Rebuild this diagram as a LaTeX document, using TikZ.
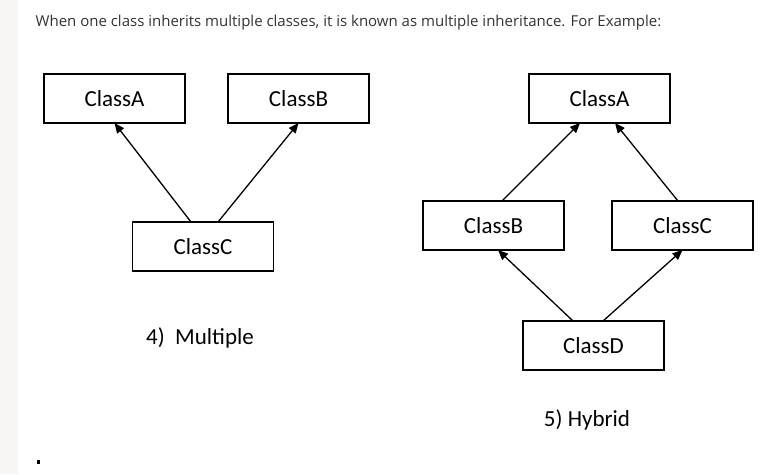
\documentclass[tikz,border=0pt]{standalone}
\usepackage{fontspec}
\setmainfont{Carlito}
\newfontfamily\webfont{Open Sans}
\usepackage{tikz}
\usetikzlibrary{arrows.meta,positioning}
\definecolor{strip}{RGB}{248,245,245}
\definecolor{webtext}{RGB}{51,51,51}

\tikzset{
  cls/.style={shape=rectangle, draw=black, line width=1.3pt, fill=white,
    minimum width=141pt, minimum height=49pt, inner sep=0pt, outer sep=0pt,
    font=\fontsize{23}{27}\selectfont},
  kind/.style={inner sep=0pt, font=\fontsize{23}{27}\selectfont}
}

\begin{document}
\begin{tikzpicture}[x=1pt, y=-1pt, >={Triangle[length=10pt,width=8.5pt]}, line width=1.3pt]
\useasboundingbox (0,0) rectangle (778,474);
\fill[strip] (0,0) rectangle (18,474);
\node[anchor=west, inner sep=0pt, text=webtext, font=\webfont\fontsize{15}{18}\selectfont] (intro) at (35,23)
  {When one class inherits multiple classes, it is known as multiple inheritance. For Example:};
% multiple
\node[cls] (A1) at (114.5,98.5) {ClassA};
\node[cls] (B1) [right=43pt of A1] {ClassB};
\node[cls] (C1) [below=99pt of A1, xshift=88.5pt] {ClassC};
\node[kind] (L1) [below=56pt of C1, xshift=-3pt] {4)\ \ Multiple};
\path[->] ([xshift=-12pt]C1.north) edge (A1.south)
	([xshift=15pt]C1.north) edge (B1.south);
% hybrid
\node[cls] (A2) [right=160pt of B1] {ClassA};
\node[cls] (B2) [below=78pt of A2, xshift=-106pt] {ClassB};
\node[cls] (C2) [right=48pt of B2] {ClassC};
\node[cls] (D2) [below=71pt of B2, xshift=100pt] {ClassD};
\node[kind] (L2) [below=39pt of D2, xshift=-6.5pt] {5) Hybrid};
\path[->] ([xshift=8.5pt]B2.north) edge ([xshift=-19.5pt]A2.south)
	([xshift=-4.5pt]C2.north) edge ([xshift=15.5pt]A2.south)
	([xshift=-20.5pt]D2.north) edge ([xshift=4.5pt]B2.south)
	([xshift=9.5pt]D2.north) edge (C2.south);
\fill (37,460) rectangle (39.5,463.5);
\end{tikzpicture}
\end{document}
